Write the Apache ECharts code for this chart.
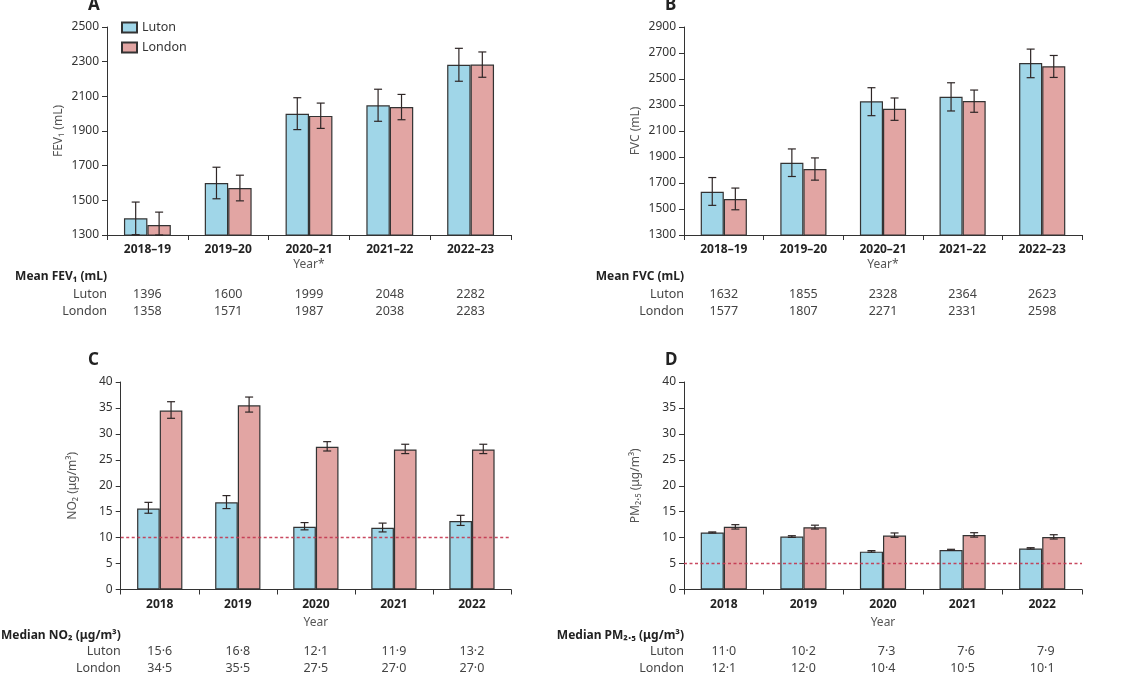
<!DOCTYPE html>
<html><head><meta charset="utf-8">
<script src="https://cdn.jsdelivr.net/npm/echarts@6/dist/echarts.min.js"></script>
<style>html,body{margin:0;padding:0;background:#fff}#c{width:1128px;height:675px}</style>
</head><body><div id="c"></div>
<script>
// ---------- data ----------
const spiroYears = ['2018–19','2019–20','2020–21','2021–22','2022–23'];
const airYears = ['2018','2019','2020','2021','2022'];
const seriesNames = ['Luton','London'];

const fevLuton = [1396,1600,1999,2048,2282];
const fevLondon = [1358,1571,1987,2038,2283];
const fevLutonLow = [1302,1509,1908,1956,2187];
const fevLutonHigh = [1490,1691,2092,2141,2377];
const fevLondonLow = [1284,1497,1915,1965,2210];
const fevLondonHigh = [1432,1645,2061,2111,2356];

const fvcLuton = [1632,1855,2328,2364,2623];
const fvcLondon = [1577,1807,2271,2331,2598];
const fvcLutonLow = [1528,1750,2218,2254,2510];
const fvcLutonHigh = [1742,1962,2433,2471,2730];
const fvcLondonLow = [1494,1722,2182,2244,2512];
const fvcLondonHigh = [1661,1893,2354,2415,2681];

const no2Luton = [15.6,16.8,12.1,11.9,13.2];
const no2London = [34.5,35.5,27.5,27.0,27.0];
const no2LutonLow = [14.7,15.6,11.5,11.1,12.35];
const no2LutonHigh = [16.8,18.1,12.9,12.8,14.3];
const no2LondonLow = [33.0,34.2,26.7,26.2,26.2];
const no2LondonHigh = [36.2,37.1,28.5,28.0,28.0];
const no2Limit = 10;

const pmLuton = [11.0,10.2,7.3,7.6,7.9];
const pmLondon = [12.1,12.0,10.4,10.5,10.1];
const pmLutonLow = [10.9,10.05,7.2,7.55,7.8];
const pmLutonHigh = [11.1,10.37,7.5,7.75,8.06];
const pmLondonLow = [11.65,11.65,10.05,10.1,9.73];
const pmLondonHigh = [12.5,12.4,10.9,10.95,10.56];
const pmLimit = 5;

const fevTicks = {min:1300, max:2500, interval:200};
const fvcTicks = {min:1300, max:2900, interval:200};
const airTicks = {min:0, max:40, interval:5};

// ---------- styles ----------
const FONT = '"Noto Sans", "DejaVu Sans", sans-serif';
const BLUE = '#a0d6e8', PINK = '#e2a5a3', EDGE = '#333333';
const fmtInt = v => String(v);
const fmtDec = v => (v < 10 ? '\u2007' : '') + v.toFixed(1).replace('.', '\u00b7');

const panels = [
  {letter:'A', grid:{left:107, top:27, width:404, height:208}, lx:88, ly:-3,
   cats:spiroYears, yName:'FEV\u2081 (mL)', ticks:fevTicks, xName:'Year*', xNameGap:24,
   heading:'Mean FEV\u2081 (mL)', offs:[42,59,76], fmt:fmtInt,
   lut:fevLuton, lon:fevLondon, lutLo:fevLutonLow, lutHi:fevLutonHigh, lonLo:fevLondonLow, lonHi:fevLondonHigh},
  {letter:'B', grid:{left:684, top:27, width:398, height:208}, lx:665, ly:-3,
   cats:spiroYears, yName:'FVC (mL)', ticks:fvcTicks, xName:'Year*', xNameGap:24,
   heading:'Mean FVC (mL)', offs:[42,59,76], fmt:fmtInt,
   lut:fvcLuton, lon:fvcLondon, lutLo:fvcLutonLow, lutHi:fvcLutonHigh, lonLo:fvcLondonLow, lonHi:fvcLondonHigh},
  {letter:'C', grid:{left:107, top:382, width:404, height:208}, lx:88, ly:352,
   cats:airYears, yName:'NO\u2082 (\u03bcg/m\u00b3)', ticks:airTicks, xName:'Year', xNameGap:27,
   heading:'Median NO\u2082 (\u03bcg/m\u00b3)', offs:[46,62,79], fmt:fmtDec, limit:no2Limit,
   lut:no2Luton, lon:no2London, lutLo:no2LutonLow, lutHi:no2LutonHigh, lonLo:no2LondonLow, lonHi:no2LondonHigh},
  {letter:'D', grid:{left:684, top:382, width:398, height:208}, lx:665, ly:352,
   cats:airYears, yName:'PM\u2082.\u2085 (\u03bcg/m\u00b3)', ticks:airTicks, xName:'Year', xNameGap:27,
   heading:'Median PM\u2082.\u2085 (\u03bcg/m\u00b3)', offs:[46,62,79], fmt:fmtDec, limit:pmLimit,
   lut:pmLuton, lon:pmLondon, lutLo:pmLutonLow, lutHi:pmLutonHigh, lonLo:pmLondonLow, lonHi:pmLondonHigh}
];

function errRender(sign){
  return function(params, api){
    const i = api.value(0);
    const p1 = api.coord([i, api.value(1)]);
    const p2 = api.coord([i, api.value(2)]);
    const band = api.size([1, 0])[0];
    const x = p1[0] + sign * band * 0.145;
    const cs = params.coordSys;
    const cl = y => Math.max(cs.y, Math.min(cs.y + cs.height, y));
    const yLo = cl(p1[1]), yHi = cl(p2[1]);
    const cap = 4;
    const st = {stroke:'#2e2626', lineWidth:1.2};
    return {type:'group', children:[
      {type:'line', shape:{x1:x, y1:yLo, x2:x, y2:yHi}, style:st},
      {type:'line', shape:{x1:x-cap, y1:yHi, x2:x+cap, y2:yHi}, style:st},
      {type:'line', shape:{x1:x-cap, y1:yLo, x2:x+cap, y2:yLo}, style:st}
    ]};
  };
}

const grids = [], xAxes = [], yAxes = [], series = [], titles = [];
panels.forEach((p, k) => {
  grids.push(p.grid);
  titles.push({text:p.letter, left:p.lx, top:p.ly, padding:0,
    textStyle:{fontSize:17, fontWeight:'bold', color:'#222', fontFamily:FONT}});
  // main category axis
  xAxes.push({type:'category', gridIndex:k, data:p.cats, boundaryGap:true, position:'bottom',
    axisLine:{lineStyle:{color:EDGE, width:1}},
    axisTick:{show:true, length:5, interval:0, lineStyle:{color:EDGE}},
    axisLabel:{interval:0, fontSize:12, fontWeight:'bold', color:'#222', margin:9, fontFamily:FONT},
    name:p.xName, nameLocation:'middle', nameGap:p.xNameGap,
    nameTextStyle:{fontSize:12, color:'#555', fontFamily:FONT}});
  // table heading
  xAxes.push({type:'category', gridIndex:k, data:p.cats, position:'bottom', offset:p.offs[0],
    axisLine:{show:false}, axisTick:{show:false}, axisLabel:{show:false},
    name:p.heading, nameLocation:'start', nameGap:0,
    nameTextStyle:{fontSize:12, fontWeight:'bold', color:'#222', fontFamily:FONT}});
  // table rows
  [[seriesNames[0], p.lut], [seriesNames[1], p.lon]].forEach((row, r) => {
    xAxes.push({type:'category', gridIndex:k, data:p.cats, position:'bottom', offset:p.offs[r+1],
      axisLine:{show:false}, axisTick:{show:false},
      axisLabel:{show:true, interval:0, margin:0, verticalAlign:'middle', fontSize:12.5, color:'#444', fontFamily:FONT,
        formatter:(v, i) => p.fmt(row[1][i])},
      name:row[0], nameLocation:'start', nameGap:0,
      nameTextStyle:{fontSize:12.5, color:'#444', fontFamily:FONT}});
  });
  yAxes.push({type:'value', gridIndex:k, min:p.ticks.min, max:p.ticks.max, interval:p.ticks.interval,
    axisLine:{show:true, lineStyle:{color:EDGE, width:1}},
    axisTick:{show:true, length:5, lineStyle:{color:EDGE}},
    splitLine:{show:false},
    axisLabel:{fontSize:12, color:'#333', margin:8, fontFamily:FONT, formatter:v => String(v)},
    name:p.yName, nameLocation:'middle', nameGap:42,
    nameTextStyle:{fontSize:12, color:'#555', fontFamily:FONT}});
  const xi = 4 * k;
  const lutBar = {type:'bar', name:seriesNames[0], xAxisIndex:xi, yAxisIndex:k, data:p.lut,
    barWidth:'29%', barGap:'0%',
    itemStyle:{color:BLUE, borderColor:EDGE, borderWidth:1.2}};
  if (p.limit !== undefined) {
    lutBar.markLine = {symbol:'none', silent:true, label:{show:false}, z:5,
      lineStyle:{color:'#c3354f', type:[3,2.5], width:1.4, opacity:0.9},
      emphasis:{disabled:true}, data:[{yAxis:p.limit}]};
  }
  series.push(lutBar);
  series.push({type:'bar', name:seriesNames[1], xAxisIndex:xi, yAxisIndex:k, data:p.lon,
    barWidth:'29%', barGap:'0%',
    itemStyle:{color:PINK, borderColor:EDGE, borderWidth:1.2}});
  series.push({type:'custom', xAxisIndex:xi, yAxisIndex:k, z:6, silent:true,
    renderItem:errRender(-1), encode:{x:0, y:[1,2]},
    data:p.lut.map((v, i) => [i, p.lutLo[i], p.lutHi[i]])});
  series.push({type:'custom', xAxisIndex:xi, yAxisIndex:k, z:6, silent:true,
    renderItem:errRender(1), encode:{x:0, y:[1,2]},
    data:p.lon.map((v, i) => [i, p.lonLo[i], p.lonHi[i]])});
});

const chart = echarts.init(document.getElementById('c'), null, {renderer:'canvas'});
chart.setOption({
  animation:false,
  backgroundColor:'#fff',
  textStyle:{fontFamily:FONT},
  title:titles,
  legend:{data:seriesNames, orient:'vertical', left:121, top:21, itemWidth:15, itemHeight:10, itemGap:7,
    icon:'rect', padding:0, selectedMode:false,
    textStyle:{fontSize:12.5, color:'#333', fontFamily:FONT}},
  grid:grids, xAxis:xAxes, yAxis:yAxes, series:series
});
</script></body></html>
